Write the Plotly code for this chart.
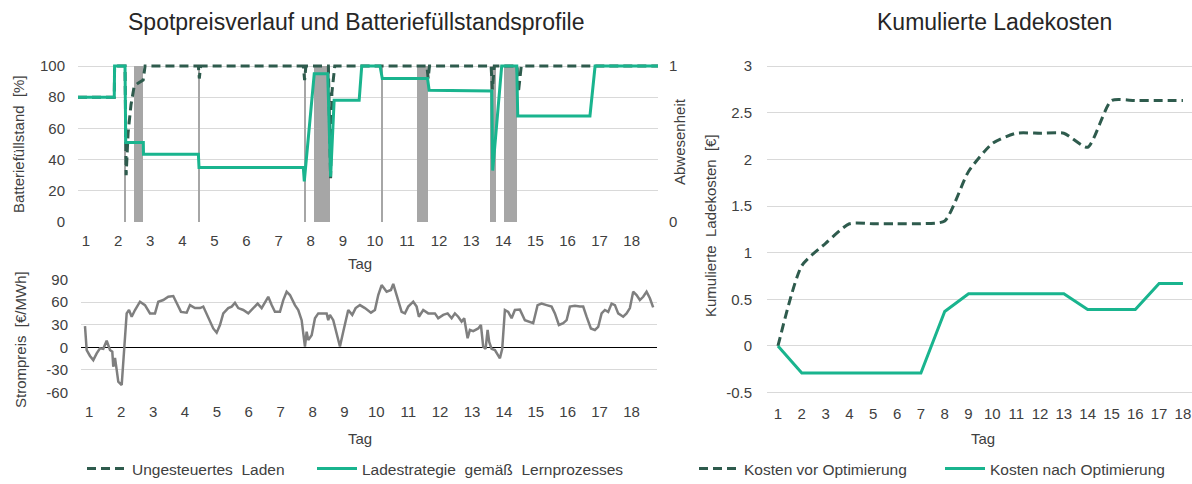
import plotly.graph_objects as go

# ---------------- Batteriefüllstand [%] über Tage ----------------
soc_days_uncontrolled = [0.75, 1.88, 1.89, 2.215, 2.25, 2.31, 2.40, 2.50, 2.62, 2.78, 2.84,
                         4.50, 4.53, 4.57, 7.77, 7.81, 7.85, 8.55, 8.62, 8.66, 8.75,
                         11.62, 11.66, 11.70, 13.62, 13.66, 13.72, 14.43, 14.47, 14.56, 18.82]
soc_uncontrolled = [80, 80, 100, 100, 30, 57, 75, 87, 89, 91, 100,
                    100, 92, 100, 100, 91, 100, 100, 28, 83, 100,
                    100, 92, 100, 100, 85, 100, 100, 83, 100, 100]

soc_days_learned = [0.75, 1.88, 1.89, 2.215, 2.237, 2.785, 2.79, 4.50, 4.52, 7.77, 7.80,
                    8.11, 8.53, 8.62, 8.73, 9.51, 9.59, 10.16, 10.23, 11.64, 11.69,
                    13.64, 13.67, 13.95, 14.42, 14.45, 16.70, 16.86, 18.82]
soc_learned = [80, 80, 100, 100, 51, 51, 43.5, 43.5, 35, 35, 26,
               95, 95, 29, 78, 78, 100, 100, 92, 92, 84.5,
               84, 33, 100, 100, 68, 68, 100, 100]

# ---------------- Abwesenheit (Beginn / Ende in Tagen) ----------------
absence_start = [2.495, 8.103, 11.302, 13.586, 14.031, 2.204, 4.491, 7.802, 10.192]
absence_end = [2.785, 8.601, 11.664, 13.763, 14.436, 2.244, 4.531, 7.842, 10.232]

# ---------------- Spotpreis [€/MWh] ----------------
price_days = [0.865, 0.918, 1.022, 1.125, 1.232, 1.335, 1.439, 1.545, 1.649, 1.721, 1.752,
              1.806, 1.859, 1.909, 2.016, 2.066, 2.119, 2.172, 2.245, 2.329, 2.433, 2.589,
              2.746, 2.903, 3.060, 3.163, 3.320, 3.476, 3.633, 3.740, 3.875, 4.053, 4.157,
              4.313, 4.470, 4.574, 4.730, 4.887, 4.994, 5.097, 5.201, 5.357, 5.464, 5.567,
              5.671, 5.828, 5.984, 6.141, 6.279, 6.404, 6.508, 6.611, 6.718, 6.821, 6.978,
              7.082, 7.188, 7.292, 7.448, 7.552, 7.658, 7.762, 7.815, 7.865, 7.972, 8.076,
              8.179, 8.335, 8.442, 8.492, 8.545, 8.649, 8.755, 8.859, 8.962, 9.119, 9.245,
              9.351, 9.486, 9.643, 9.831, 9.956, 10.060, 10.166, 10.323, 10.458, 10.530,
              10.668, 10.793, 10.897, 11.000, 11.157, 11.263, 11.335, 11.470, 11.627,
              11.837, 11.940, 12.097, 12.235, 12.361, 12.464, 12.567, 12.674, 12.755,
              12.862, 12.934, 13.038, 13.194, 13.279, 13.351, 13.426, 13.489, 13.539,
              13.614, 13.718, 13.802, 13.875, 13.947, 14.031, 14.135, 14.241, 14.345,
              14.502, 14.658, 14.815, 14.918, 15.056, 15.182, 15.339, 15.495, 15.599,
              15.724, 15.859, 15.966, 16.069, 16.226, 16.383, 16.486, 16.592, 16.727,
              16.853, 16.956, 17.063, 17.166, 17.270, 17.376, 17.480, 17.583, 17.740,
              17.846, 17.950, 18.053, 18.160, 18.263, 18.367, 18.473, 18.577, 18.680]
price_values = [28, -3.6, -11.5, -17, -8, -1.3, -2, 8.8, -3.6, -5.8, -25.7,
                -14, -30, -45.6, -50, -21, 14, 45, 49.5, 40.6, 49.5, 60.5,
                56, 45, 45, 60.5, 62.7, 67, 68, 58, 47, 46, 56,
                52, 52, 54, 40.6, 25, 19.4, 29.6, 45, 52, 54, 59,
                52, 49.5, 45, 52, 58, 52, 60.5, 67, 56, 47, 47,
                62.7, 73.7, 69.4, 56, 49.5, 36, 1, 20.7, 9.7, 16, 38.5,
                45, 45, 45, 36, 43, 36, 18.6, 1, 20.7, 49.5, 43,
                52, 56, 52, 46, 49.5, 69.4, 82.6, 73.7, 76, 84,
                65, 47, 45, 54, 60.5, 54, 40.6, 49.5, 45,
                45, 38.5, 43, 45, 38.5, 45, 40.6, 34, 38.5,
                12, 23, 21.5, 25, 29.6, 1, -2, 23, 7,
                -2, -3.6, -10, -14.6, -2, 49.5, 47, 38.5, 49.5,
                50, 36, 34, 32, 56, 58, 56, 54, 45,
                29.6, 32, 36, 54, 55, 54, 54, 40.6, 25,
                23, 27, 45, 49.5, 47, 58, 56, 45, 40.6,
                45, 52, 73.7, 69.4, 62.7, 67, 73.7, 65, 53]

# ---------------- Kumulierte Ladekosten [€] ----------------
cost_days = list(range(1, 19))
cost_before = [0, 0.86, 1.10, 1.31, 1.31, 1.31, 1.31, 1.34, 1.87, 2.17, 2.28, 2.28, 2.28,
               2.13, 2.63, 2.63, 2.63, 2.63]
cost_after = [0, -0.29, -0.29, -0.29, -0.29, -0.29, -0.29, 0.37, 0.56, 0.56, 0.56, 0.56,
              0.56, 0.39, 0.39, 0.39, 0.67, 0.67]

day_ticks = list(range(1, 19))
soc_ticks = [0, 20, 40, 60, 80, 100]
price_ticks = [-60, -30, 0, 30, 60, 90]
price_ticklabels = ["-60", "-30", "0", "30", "60", "90"]
cost_ticks = [-0.5, 0, 0.5, 1, 1.5, 2, 2.5, 3]
cost_ticklabels = ["-0.5", "0", "0.5", "1", "1.5", "2", "2.5", "3"]

# ---------------- Styling ----------------
W, H = 1192, 484
FONT = "Liberation Sans, Arial, sans-serif"
DARK = "#2e5b4d"
TEAL = "#19b48e"
GRID = "#d9d9d9"
TXT = "#404040"


def fx(p):
    return p / W


def fy(p):
    return 1 - p / H


fig = go.Figure()

# Abwesenheitsbalken
fig.add_trace(go.Bar(
    x=[(s + e) / 2 for s, e in zip(absence_start, absence_end)],
    y=[1] * len(absence_start),
    width=[e - s for s, e in zip(absence_start, absence_end)],
    base=0, marker=dict(color="#a6a6a6", line=dict(width=0)),
    xaxis="x", yaxis="y", showlegend=False, hoverinfo="skip",
))

fig.add_trace(go.Scatter(
    x=soc_days_uncontrolled, y=soc_uncontrolled, mode="lines",
    line=dict(color=DARK, width=3, dash="9px,5px"),
    name="Ungesteuertes  Laden", xaxis="x", yaxis="y2", legend="legend",
))
fig.add_trace(go.Scatter(
    x=soc_days_learned, y=soc_learned, mode="lines",
    line=dict(color=TEAL, width=3),
    name="Ladestrategie  gemäß  Lernprozesses", xaxis="x", yaxis="y2", legend="legend3",
))

fig.add_trace(go.Scatter(
    x=price_days, y=price_values, mode="lines",
    line=dict(color="#7f7f7f", width=2.5),
    xaxis="x2", yaxis="y3", showlegend=False,
))

fig.add_trace(go.Scatter(
    x=cost_days, y=cost_before, mode="lines",
    line=dict(color=DARK, width=3, dash="9px,5px", shape="spline", smoothing=0.6),
    name="Kosten vor Optimierung", xaxis="x3", yaxis="y4", legend="legend2",
))
fig.add_trace(go.Scatter(
    x=cost_days, y=cost_after, mode="lines",
    line=dict(color=TEAL, width=3),
    name="Kosten nach Optimierung", xaxis="x3", yaxis="y4", legend="legend4",
))

tickfont = dict(family=FONT, size=15, color=TXT)
common_x = dict(showgrid=False, zeroline=False, showline=False, ticks="",
                tickfont=tickfont, tickvals=day_ticks, fixedrange=True)

annotations = [
    dict(text="Spotpreisverlauf und Batteriefüllstandsprofile", x=fx(356), y=fy(22),
         font=dict(size=23, color="#262626")),
    dict(text="Kumulierte Ladekosten", x=fx(995), y=fy(22),
         font=dict(size=23, color="#262626")),
    dict(text="Batteriefüllstand  [%]", x=fx(18), y=fy(144), textangle=-90,
         font=dict(size=15, color=TXT)),
    dict(text="Abwesenheit", x=fx(679), y=fy(142), textangle=-90,
         font=dict(size=15, color=TXT)),
    dict(text="Tag", x=fx(360), y=fy(263), font=dict(size=15, color=TXT)),
    dict(text="Strompreis  [€/MWh]", x=fx(20), y=fy(340), textangle=-90,
         font=dict(size=15, color=TXT)),
    dict(text="Tag", x=fx(360), y=fy(438), font=dict(size=15, color=TXT)),
    dict(text="Kumulierte  Ladekosten  [€]", x=fx(710), y=fy(226), textangle=-90,
         font=dict(size=15, color=TXT)),
    dict(text="Tag", x=fx(983), y=fy(438), font=dict(size=15, color=TXT)),
]
for a in annotations:
    a.update(xref="paper", yref="paper", showarrow=False, xanchor="center", yanchor="middle")
    a["font"]["family"] = FONT

legend_style = dict(orientation="h", xanchor="left", yanchor="middle", y=fy(469),
                    font=dict(family=FONT, size=15.5, color=TXT), bgcolor="rgba(0,0,0,0)",
                    itemwidth=40, tracegroupgap=0)

fig.update_layout(
    width=W, height=H,
    margin=dict(l=0, r=0, t=0, b=0, autoexpand=False),
    paper_bgcolor="white", plot_bgcolor="rgba(0,0,0,0)",
    font=dict(family=FONT, color=TXT),
    bargap=0,
    xaxis=dict(domain=[fx(78), fx(658)], range=[0.75, 18.82], anchor="y",
               ticklabelstandoff=8, **common_x),
    yaxis=dict(domain=[fy(222), fy(62.88)], range=[0, 1.02], anchor="x", side="right",
               tickvals=[0, 1], showgrid=False, zeroline=False, showline=False,
               tickfont=tickfont, ticks="", ticklabelstandoff=10, fixedrange=True),
    yaxis2=dict(overlaying="y", anchor="x", side="left", range=[0, 102],
                tickvals=soc_ticks, showgrid=True, gridcolor=GRID, gridwidth=1,
                zeroline=False, showline=False, tickfont=tickfont, ticks="",
                ticklabelstandoff=12, fixedrange=True),
    xaxis2=dict(domain=[fx(81), fx(657)], range=[0.74, 18.80], anchor="y3",
                ticklabelstandoff=8, **common_x),
    yaxis3=dict(domain=[fy(393.3), fy(278.7)], range=[-61, 91], anchor="x2",
                tickvals=price_ticks, ticktext=price_ticklabels,
                showgrid=True, gridcolor=GRID, zeroline=True, zerolinecolor="#000000",
                zerolinewidth=1.3, showline=False, tickfont=tickfont, ticks="",
                ticklabelstandoff=12, fixedrange=True),
    xaxis3=dict(domain=[fx(767), 1.0], range=[0.54, 18.38], anchor="y4",
                ticklabelstandoff=6, **common_x),
    yaxis4=dict(domain=[fy(397.3), fy(61.4)], range=[-0.55, 3.05], anchor="x3",
                tickvals=cost_ticks, ticktext=cost_ticklabels,
                showgrid=True, gridcolor=GRID, zeroline=False, showline=False,
                tickfont=tickfont, ticks="", ticklabelstandoff=14, fixedrange=True),
    legend=dict(x=fx(82), **legend_style),
    legend3=dict(x=fx(312), **legend_style),
    legend2=dict(x=fx(694), **legend_style),
    legend4=dict(x=fx(940), **legend_style),
    annotations=annotations,
)

fig.write_html("out.html")
